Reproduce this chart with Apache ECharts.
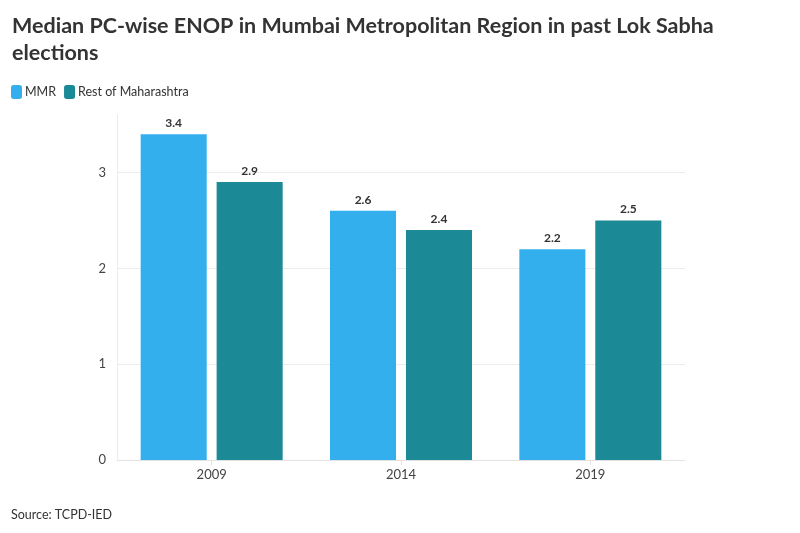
<!DOCTYPE html>
<html>
<head>
<meta charset="utf-8">
<script src="https://cdn.jsdelivr.net/npm/echarts@6/dist/echarts.min.js"></script>
<style>
  html, body { margin: 0; padding: 0; background: #fff; }
  #chart { width: 800px; height: 533px; }
</style>
</head>
<body>
<div id="chart"></div>
<script>
var years = ['2009', '2014', '2019'];
var mmrValues = [3.4, 2.6, 2.2];
var restValues = [2.9, 2.4, 2.5];
var seriesNames = ['MMR', 'Rest of Maharashtra'];
var barColors = ['#33afee', '#1b8a96'];

var fontName = 'Lato, "Noto Sans", sans-serif';

var chart = echarts.init(document.getElementById('chart'));

var labelStyle = {
  show: true,
  position: 'top',
  distance: 5,
  fontFamily: fontName,
  fontWeight: 'bold',
  fontSize: 12,
  color: '#333'
};

var option = {
  backgroundColor: '#fff',
  color: barColors,
  title: {
    text: 'Median PC-wise ENOP in Mumbai Metropolitan Region in past Lok Sabha\nelections',
    left: 7,
    top: 8,
    textStyle: {
      fontFamily: fontName,
      fontWeight: 'bold',
      fontSize: 21.5,
      lineHeight: 27,
      color: '#333'
    }
  },
  legend: {
    left: 6,
    top: 80,
    itemWidth: 11,
    itemHeight: 14,
    itemGap: 8,
    icon: 'roundRect',
    textStyle: { fontFamily: fontName, fontSize: 12.5, color: '#333', padding: [0, 0, 0, -2] },
    data: seriesNames
  },
  graphic: [{
    type: 'text',
    left: 11,
    top: 508,
    style: {
      text: 'Source: TCPD-IED',
      fontFamily: fontName,
      fontSize: 12.5,
      fill: '#333'
    }
  }],
  grid: {
    left: 117,
    right: 115,
    top: 115,
    bottom: 73
  },
  xAxis: {
    type: 'category',
    data: years,
    axisLine: { lineStyle: { color: '#e3e3e3' } },
    axisTick: { show: true, alignWithLabel: true, length: 5, lineStyle: { color: '#e3e3e3' } },
    axisLabel: { fontFamily: fontName, fontSize: 13, color: '#444', margin: 8 }
  },
  yAxis: {
    type: 'value',
    min: 0,
    max: 3.6,
    interval: 1,
    axisLine: { show: true, lineStyle: { color: '#ececec' } },
    axisTick: { show: false },
    axisLabel: { fontFamily: fontName, fontSize: 13, color: '#444', margin: 11, showMaxLabel: false },
    splitLine: { showMaxLine: false, lineStyle: { color: '#ececec' } }
  },
  series: [
    {
      name: seriesNames[0],
      type: 'bar',
      data: mmrValues,
      barGap: '15%',
      barCategoryGap: '25%',
      itemStyle: { color: barColors[0] },
      label: labelStyle
    },
    {
      name: seriesNames[1],
      type: 'bar',
      data: restValues,
      itemStyle: { color: barColors[1] },
      label: labelStyle
    }
  ]
};

chart.setOption(option);
</script>
</body>
</html>
